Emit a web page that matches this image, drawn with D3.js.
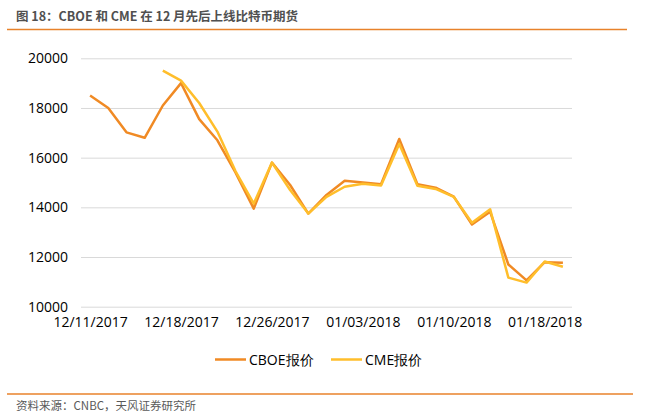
<!DOCTYPE html>
<html><head><meta charset="utf-8">
<script src="https://cdn.jsdelivr.net/npm/d3@7"></script>
<style>
html,body{margin:0;padding:0;background:#fff;}
svg{display:block;}
</style></head>
<body>
<svg id="chart" width="646" height="417"></svg>
<script>
const categories = ["12/11/2017","12/12/2017","12/13/2017","12/14/2017","12/15/2017",
  "12/18/2017","12/19/2017","12/20/2017","12/21/2017","12/22/2017",
  "12/26/2017","12/27/2017","12/28/2017","12/29/2017","01/02/2018",
  "01/03/2018","01/04/2018","01/05/2018","01/08/2018","01/09/2018",
  "01/10/2018","01/11/2018","01/12/2018","01/16/2018","01/17/2018",
  "01/18/2018","01/19/2018"];
const cboe = [18500,18000,17020,16800,18100,19000,17550,16700,15400,13950,
  15800,14900,13750,14500,15070,15000,14930,16750,14930,14790,
  14430,13310,13820,11700,11060,11790,11770];
const cme = [null,null,null,null,19500,19100,18200,17050,15450,14150,
  15800,14700,13750,14420,14830,14950,14880,16550,14870,14740,
  14420,13380,13920,11170,10970,11820,11610];
const yTicks = [10000,12000,14000,16000,18000,20000];
const xTickLabels = ["12/11/2017","12/18/2017","12/26/2017","01/03/2018","01/10/2018","01/18/2018"];
const seriesNames = ["CBOE报价","CME报价"];
const colors = ["#F08A24","#FFBE2B"];

const svg = d3.select("#chart");
const font = "'Open Sans','Noto Sans',sans-serif";

// header
svg.append("text").attr("x",16).attr("y",21)
  .attr("font-family","'Noto Sans CJK SC',sans-serif").attr("font-weight","bold")
  .attr("font-size",12.5).attr("fill","#505050")
  .text("图 18：CBOE 和 CME 在 12 月先后上线比特币期货");
svg.append("line").attr("x1",7).attr("x2",627).attr("y1",29.5).attr("y2",29.5)
  .attr("stroke","#E8822B").attr("stroke-width",1.3);

const x = d3.scalePoint().domain(categories).range([81,572]).padding(0.5);
const y = d3.scaleLinear().domain([10000,20000]).range([306.7,58.3]);

// grid
const yAxis = d3.axisLeft(y).tickValues(yTicks).tickSize(-(572-81)).tickPadding(13).tickFormat(d3.format("d"));
const gy = svg.append("g").attr("transform","translate(81,0)").call(yAxis);
gy.select(".domain").remove();
gy.selectAll(".tick line").attr("stroke","#D9D9D9").attr("stroke-width",1);
gy.selectAll(".tick text").attr("font-family",font).attr("font-size",14).attr("fill","#000");

const xAxis = d3.axisBottom(x).tickValues(xTickLabels).tickSize(0).tickPadding(10);
const gx = svg.append("g").attr("transform","translate(0,306.7)").call(xAxis);
gx.select(".domain").remove();
gx.selectAll(".tick text").attr("font-family",font).attr("font-size",14).attr("fill","#000");

const line = d3.line().defined(d=>d[1]!=null).x(d=>x(d[0])).y(d=>y(d[1]));
[cboe,cme].forEach((s,i)=>{
  svg.append("path").datum(categories.map((c,j)=>[c,s[j]]))
    .attr("d",line).attr("fill","none").attr("stroke",colors[i])
    .attr("stroke-width",2.5).attr("stroke-linejoin","round");
});

// legend
const legX = [215,331];
seriesNames.forEach((n,i)=>{
  svg.append("line").attr("x1",legX[i]).attr("x2",legX[i]+31).attr("y1",359.5).attr("y2",359.5)
    .attr("stroke",colors[i]).attr("stroke-width",2.5);
  svg.append("text").attr("x",legX[i]+34).attr("y",364.5)
    .attr("font-family",font).attr("font-size",14).attr("fill","#000").text(n);
});

// footer
svg.append("line").attr("x1",7).attr("x2",633).attr("y1",394).attr("y2",394)
  .attr("stroke","#E8822B").attr("stroke-width",1.3);
svg.append("text").attr("x",16).attr("y",409.5)
  .attr("font-family","'Noto Sans CJK SC',sans-serif").attr("font-size",11.5).attr("fill","#595959")
  .text("资料来源：CNBC，天风证券研究所");
</script>
</body></html>
